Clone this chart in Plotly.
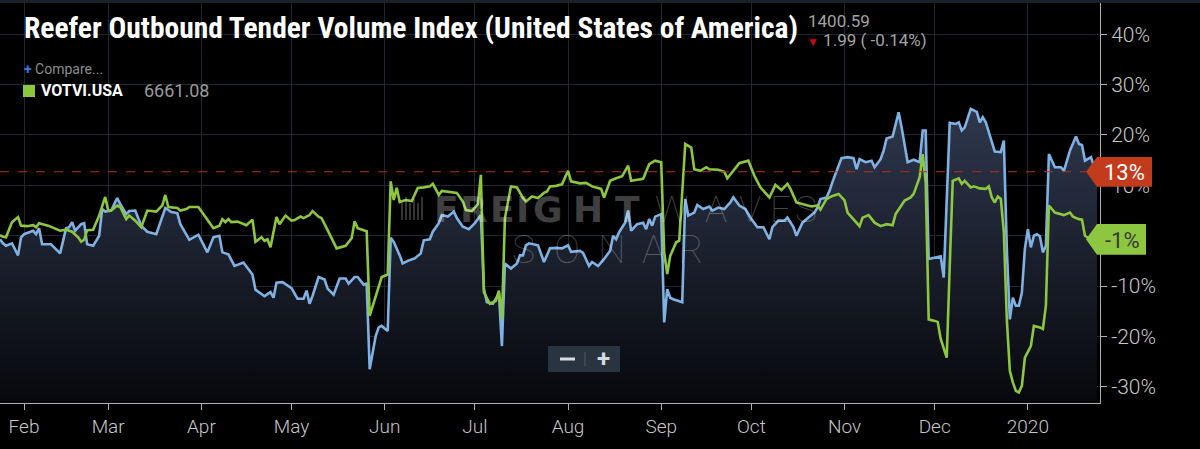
import plotly.graph_objects as go

# Reefer outbound tender volume index, % change
rotvi_dates = [
    "2019-01-24", "2019-01-25", "2019-01-26", "2019-01-28", "2019-01-30", "2019-01-31",
    "2019-02-01", "2019-02-04", "2019-02-05", "2019-02-06", "2019-02-07", "2019-02-10",
    "2019-02-13", "2019-02-15", "2019-02-16", "2019-02-17", "2019-02-18", "2019-02-20",
    "2019-02-21", "2019-02-22", "2019-02-24", "2019-02-26", "2019-02-27", "2019-02-28",
    "2019-03-02", "2019-03-04", "2019-03-05", "2019-03-07", "2019-03-08", "2019-03-10",
    "2019-03-12", "2019-03-14", "2019-03-17", "2019-03-20", "2019-03-22", "2019-03-24",
    "2019-03-25", "2019-03-28", "2019-03-31",
    "2019-04-03", "2019-04-05", "2019-04-07", "2019-04-08", "2019-04-10", "2019-04-12",
    "2019-04-15", "2019-04-18", "2019-04-19", "2019-04-22", "2019-04-24", "2019-04-25",
    "2019-04-26", "2019-04-28",
    "2019-05-01", "2019-05-03", "2019-05-05", "2019-05-06", "2019-05-07", "2019-05-08",
    "2019-05-10", "2019-05-12", "2019-05-13", "2019-05-15", "2019-05-17", "2019-05-19",
    "2019-05-20", "2019-05-22", "2019-05-23", "2019-05-25", "2019-05-26", "2019-05-27",
    "2019-05-29", "2019-05-30", "2019-05-31",
    "2019-06-02", "2019-06-03", "2019-06-04", "2019-06-05", "2019-06-06", "2019-06-07",
    "2019-06-09", "2019-06-11", "2019-06-13", "2019-06-14", "2019-06-16", "2019-06-17",
    "2019-06-19", "2019-06-20", "2019-06-22", "2019-06-24", "2019-06-25", "2019-06-27",
    "2019-06-29",
    "2019-07-01", "2019-07-03", "2019-07-04", "2019-07-05", "2019-07-07", "2019-07-09",
    "2019-07-10", "2019-07-11", "2019-07-13", "2019-07-15", "2019-07-16", "2019-07-17",
    "2019-07-18", "2019-07-19", "2019-07-22", "2019-07-24", "2019-07-26", "2019-07-28",
    "2019-07-30",
    "2019-08-01", "2019-08-02", "2019-08-05", "2019-08-06", "2019-08-08", "2019-08-09",
    "2019-08-11", "2019-08-13", "2019-08-15", "2019-08-16", "2019-08-17", "2019-08-18",
    "2019-08-20", "2019-08-21", "2019-08-22", "2019-08-24", "2019-08-26", "2019-08-27",
    "2019-08-28", "2019-08-29", "2019-08-30",
    "2019-09-01", "2019-09-02", "2019-09-03", "2019-09-04", "2019-09-05", "2019-09-07",
    "2019-09-08", "2019-09-09", "2019-09-10", "2019-09-12", "2019-09-13", "2019-09-15",
    "2019-09-17", "2019-09-18", "2019-09-20", "2019-09-22", "2019-09-24", "2019-09-25",
    "2019-09-27", "2019-09-29",
    "2019-10-01", "2019-10-03", "2019-10-05", "2019-10-07", "2019-10-08", "2019-10-10",
    "2019-10-12", "2019-10-13", "2019-10-15", "2019-10-16", "2019-10-18", "2019-10-20",
    "2019-10-22", "2019-10-23", "2019-10-24", "2019-10-26", "2019-10-27", "2019-10-28",
    "2019-10-30", "2019-10-31",
    "2019-11-02", "2019-11-04", "2019-11-05", "2019-11-06", "2019-11-08", "2019-11-10",
    "2019-11-11", "2019-11-13", "2019-11-14", "2019-11-15", "2019-11-17", "2019-11-18",
    "2019-11-19", "2019-11-20", "2019-11-22", "2019-11-24", "2019-11-26", "2019-11-27",
    "2019-11-28", "2019-11-29",
    "2019-12-01", "2019-12-03", "2019-12-04", "2019-12-05", "2019-12-06", "2019-12-08",
    "2019-12-09", "2019-12-10", "2019-12-11", "2019-12-13", "2019-12-15", "2019-12-16",
    "2019-12-17", "2019-12-18", "2019-12-20", "2019-12-21", "2019-12-23", "2019-12-24",
    "2019-12-25", "2019-12-26", "2019-12-27", "2019-12-28", "2019-12-29", "2019-12-30",
    "2019-12-31",
    "2020-01-01", "2020-01-02", "2020-01-03", "2020-01-04", "2020-01-05", "2020-01-06",
    "2020-01-07", "2020-01-08", "2020-01-10", "2020-01-12", "2020-01-13", "2020-01-15",
    "2020-01-17", "2020-01-18", "2020-01-19", "2020-01-20", "2020-01-22", "2020-01-23",
    "2020-01-24",
]
rotvi_vals = [
    -0.7, -1.5, -2.0, -1.5, -3.9, -0.3,
    0.3, 1.0, 0.3, 1.5, -1.7, -1.7,
    -3.5, 1.5, 1.7, 2.7, 1.0, 2.3,
    2.5, -1.7, -2.0, 0.0, 5.3, 4.8,
    5.0, 7.5, 6.3, 4.3, 4.9, 5.0,
    2.0, 0.8, 0.3, 5.5, 4.7, 4.5,
    2.3, -0.8, 0.2,
    -3.3, -0.3, 0.0, -3.3, -3.7, -6.0,
    -5.3, -7.7, -10.7, -12.0, -11.2, -12.3,
    -9.3, -9.2,
    -10.4, -12.5, -12.5, -10.9, -13.5, -11.9,
    -8.2, -8.7, -10.5, -11.7, -8.5, -8.5,
    -9.5, -8.2, -8.2, -9.7, -9.5, -26.5,
    -19.9, -18.2, -17.9,
    -18.9, -0.4, -1.2, -2.5, -3.9, -5.5,
    -4.9, -4.5, -3.5, -0.9, -0.7, 0.8,
    2.5, 4.1, 3.8, 4.8, 3.5, 1.8,
    1.3,
    2.5, 4.1, -10.5, -13.2, -13.5, -11.5,
    -21.9, -5.5, -6.5, -5.5, -3.9, -3.9,
    -1.9, -1.5, -1.9, -5.2, -2.5, -2.4,
    -2.5,
    -1.9, -3.2, -3.0, -3.4, -6.0, -5.2,
    -6.0, -4.6, -3.0, 0.0, -0.7, 0.7,
    2.6, 5.0, 1.0, 2.3, 2.6, 1.3,
    3.3, 2.0, 3.8,
    4.3, -17.2, -10.6, -12.3, -12.6, -12.9,
    -13.2, 7.3, 4.0, 4.6, 6.1, 5.3,
    5.8, 5.0, 5.6, 5.3, 6.6, 7.6,
    6.0, 5.3,
    3.3, 1.7, 1.7, -0.7, 1.7, 3.0,
    3.0, 3.6, 1.7, 0.0, 2.6, 3.6,
    4.6, 5.6, 7.3, 7.6, 8.9, 10.7,
    13.6, 15.4,
    15.6, 15.4, 13.2, 15.2, 14.6, 14.9,
    13.6, 15.2, 16.9, 19.3, 19.7, 22.2,
    24.5, 21.5, 14.6, 15.1, 14.6, 20.9,
    20.9, -4.6,
    -4.3, -4.1, -8.3, 7.3, 22.4, 22.2,
    22.5, 20.9, 21.5, 25.2, 24.6, 22.5,
    23.5, 22.5, 18.7, 16.7, 16.6, 18.9,
    -2.6, -16.6, -12.3, -13.9, -13.9, -11.3,
    -2.6,
    1.3, -2.3, 0.0, 0.3, -0.1, -3.3,
    -2.0, 16.2, 13.6, 13.6, 12.9, 16.9,
    19.7, 18.2, 18.0, 14.9, 15.6, 13.8,
    14.2,
]

# VOTVI.USA comparison series
votvi_dates = [
    "2019-01-24", "2019-01-25", "2019-01-26", "2019-01-28", "2019-01-30", "2019-01-31",
    "2019-02-02", "2019-02-04", "2019-02-05", "2019-02-06", "2019-02-09", "2019-02-11",
    "2019-02-13", "2019-02-15", "2019-02-17", "2019-02-19", "2019-02-20", "2019-02-21",
    "2019-02-22", "2019-02-24", "2019-02-26", "2019-02-28",
    "2019-03-01", "2019-03-02", "2019-03-04", "2019-03-05", "2019-03-07", "2019-03-08",
    "2019-03-10", "2019-03-12", "2019-03-14", "2019-03-17", "2019-03-19", "2019-03-20",
    "2019-03-21", "2019-03-24", "2019-03-25", "2019-03-27", "2019-03-28", "2019-03-31",
    "2019-04-03", "2019-04-05", "2019-04-07", "2019-04-08", "2019-04-09", "2019-04-10",
    "2019-04-11", "2019-04-13", "2019-04-16", "2019-04-18", "2019-04-19", "2019-04-21",
    "2019-04-22", "2019-04-23", "2019-04-24", "2019-04-26", "2019-04-27", "2019-04-29",
    "2019-05-01", "2019-05-02", "2019-05-04", "2019-05-05", "2019-05-07", "2019-05-08",
    "2019-05-10", "2019-05-11", "2019-05-13", "2019-05-15", "2019-05-16", "2019-05-19",
    "2019-05-21", "2019-05-22", "2019-05-23", "2019-05-25", "2019-05-26", "2019-05-27",
    "2019-05-28", "2019-05-29", "2019-05-31",
    "2019-06-02", "2019-06-03", "2019-06-04", "2019-06-05", "2019-06-06", "2019-06-08",
    "2019-06-10", "2019-06-12", "2019-06-14", "2019-06-16", "2019-06-17", "2019-06-19",
    "2019-06-20", "2019-06-23", "2019-06-25", "2019-06-27", "2019-06-28", "2019-06-30",
    "2019-07-02", "2019-07-03", "2019-07-04", "2019-07-06", "2019-07-08", "2019-07-09",
    "2019-07-10", "2019-07-11", "2019-07-13", "2019-07-15", "2019-07-17", "2019-07-18",
    "2019-07-20", "2019-07-22", "2019-07-24", "2019-07-25", "2019-07-26", "2019-07-28",
    "2019-07-30",
    "2019-08-01", "2019-08-02", "2019-08-05", "2019-08-07", "2019-08-09", "2019-08-12",
    "2019-08-13", "2019-08-15", "2019-08-17", "2019-08-19", "2019-08-21", "2019-08-22",
    "2019-08-24", "2019-08-26", "2019-08-28", "2019-08-30",
    "2019-09-01", "2019-09-02", "2019-09-03", "2019-09-04", "2019-09-06", "2019-09-07",
    "2019-09-09", "2019-09-11", "2019-09-12", "2019-09-14", "2019-09-16", "2019-09-17",
    "2019-09-20", "2019-09-22", "2019-09-23", "2019-09-25", "2019-09-27", "2019-09-30",
    "2019-10-02", "2019-10-04", "2019-10-07", "2019-10-09", "2019-10-11", "2019-10-13",
    "2019-10-14", "2019-10-16", "2019-10-19", "2019-10-21", "2019-10-23", "2019-10-24",
    "2019-10-26", "2019-10-28", "2019-10-30",
    "2019-11-01", "2019-11-02", "2019-11-04", "2019-11-06", "2019-11-07", "2019-11-09",
    "2019-11-11", "2019-11-13", "2019-11-15", "2019-11-17", "2019-11-18", "2019-11-20",
    "2019-11-21", "2019-11-23", "2019-11-24", "2019-11-26", "2019-11-27", "2019-11-28",
    "2019-11-29",
    "2019-12-01", "2019-12-02", "2019-12-03", "2019-12-05", "2019-12-06", "2019-12-07",
    "2019-12-09", "2019-12-10", "2019-12-11", "2019-12-13", "2019-12-14", "2019-12-16",
    "2019-12-18", "2019-12-19", "2019-12-20", "2019-12-21", "2019-12-22", "2019-12-23",
    "2019-12-24", "2019-12-25", "2019-12-26", "2019-12-27", "2019-12-28", "2019-12-29",
    "2019-12-30", "2019-12-31",
    "2020-01-02", "2020-01-03", "2020-01-05", "2020-01-06", "2020-01-07", "2020-01-08",
    "2020-01-10", "2020-01-12", "2020-01-13", "2020-01-15", "2020-01-16", "2020-01-18",
    "2020-01-19", "2020-01-20", "2020-01-22",
]
votvi_vals = [
    0.1, -0.2, -0.3, 2.7, 3.7, 2.0,
    1.9, 2.1, 1.7, 2.5, 2.0, 1.5,
    1.0, 1.2, 0.8, -0.3, -1.2, -0.8,
    1.1, 1.2, 4.0, 7.7,
    5.0, 5.0, 6.0, 5.7, 3.3, 4.0,
    3.0, 1.7, 5.0, 4.8, 6.0, 8.1,
    5.7, 5.5, 5.0, 5.3, 5.7, 5.7,
    3.3, 1.5, 2.0, 3.3, 2.7, 3.3,
    2.7, 2.8, 2.1, 3.2, -1.2, -0.3,
    -1.0, -0.7, -2.3, 3.7, 2.3, 4.0,
    3.0, 3.1, 3.8, 3.5, 4.1, 4.9,
    3.8, 3.5, 1.1, -1.2, -2.5, -2.0,
    -0.5, 2.9, 1.5, 1.1, 0.9, -15.9,
    -13.9, -11.9, -8.2,
    -7.7, 10.8, 7.1, 9.5, 6.7, 7.1,
    6.9, 9.5, 9.6, 9.8, 10.3, 8.1,
    8.9, 8.6, 8.5, 6.8, 5.1, 4.9,
    6.3, 12.1, -11.2, -13.5, -12.9, -10.9,
    -16.5, 3.5, 9.8, 9.6, 7.5, 6.8,
    7.8, 7.5, 8.5, 8.8, 9.8, 9.9,
    10.2,
    12.9, 10.8, 10.4, 10.5, 9.8, 9.3,
    7.6, 10.9, 11.4, 11.8, 13.9, 10.9,
    11.1, 11.3, 14.2, 14.9,
    14.6, -3.3, -7.6, -4.0, -1.3, -1.0,
    18.2, 17.5, 13.2, 12.9, 13.6, 13.2,
    13.1, 12.7, 11.4, 12.9, 14.4, 14.9,
    11.9, 9.6, 7.6, 10.1, 9.1, 10.3,
    9.3, 6.6, 6.1, 5.8, 6.0, 5.2,
    7.3, 7.9, 8.3,
    7.0, 4.6, 3.2, 1.9, 3.6, 4.1,
    2.6, 1.9, 2.3, 2.1, 4.3, 6.1,
    7.0, 7.6, 8.3, 11.6, 16.2, 10.6,
    -16.6,
    -16.9, -17.1, -20.5, -24.2, -6.0, 10.9,
    11.4, 10.3, 10.9, 9.6, 9.8, 9.4,
    9.3, 9.8, 7.6, 6.6, 7.8, 7.3,
    0.7, -16.6, -26.8, -29.1, -30.8, -31.1,
    -29.8, -24.2,
    -21.9, -17.9, -18.2, -18.5, -13.9, 6.0,
    4.6, 4.3, 4.1, 4.6, 3.8, 3.3,
    3.2, 0.0, -0.8,
]

month_ticks = ["2019-02-01", "2019-03-01", "2019-04-01", "2019-05-01", "2019-06-01",
               "2019-07-01", "2019-08-01", "2019-09-01", "2019-10-01", "2019-11-01",
               "2019-12-01", "2020-01-01"]
month_labels = ["Feb", "Mar", "Apr", "May", "Jun", "Jul", "Aug", "Sep", "Oct", "Nov",
                "Dec", "2020"]
pct_ticks = [-30, -20, -10, 0, 10, 20, 30, 40]
# 0% sits fully under the green last-value tag, so its label is left blank
pct_labels = ["" if v == 0 else f"{v}%" for v in pct_ticks]

x_range = ["2019-01-24", "2020-01-25"]
y_range = [-33.2, 46.2]

last_level = 12.7          # dashed reference line / red tag
last_label = "13%"
votvi_level = -0.7
votvi_label = "-1%"

BLUE = "#7fb1e3"
GREEN = "#8dc63f"
GRID = "#1e2834"
AXIS = "#b0b0b0"
TICK_TXT = "#c6c6c6"

fig = go.Figure()

# invisible floor so the area fill runs down to the bottom of the plot
fig.add_trace(go.Scatter(
    x=[rotvi_dates[0], rotvi_dates[-1]], y=[y_range[0], y_range[0]],
    mode="lines", line=dict(width=0), hoverinfo="skip", showlegend=False,
))
fig.add_trace(go.Scatter(
    x=rotvi_dates, y=rotvi_vals, mode="lines", name="ROTVI.USA",
    line=dict(color=BLUE, width=2.6), fill="tonexty",
    fillgradient=dict(type="vertical", start=y_range[0], stop=25,
                      colorscale=[[0, "#07080c"], [1, "#2e374d"]]),
    showlegend=False,
))
fig.add_trace(go.Scatter(
    x=votvi_dates, y=votvi_vals, mode="lines", name="VOTVI.USA",
    line=dict(color=GREEN, width=2.6), showlegend=False,
))


def px(x):
    # pixel column -> paper x (plot area spans 0..1100 px)
    return x / 1100


def py(y):
    # pixel row -> paper y (plot area spans rows 3..403)
    return (403 - y) / 400


def tag_path(level, half, right):
    tip, base = px(1086), px(1097)
    r = px(right)
    return (f"M {tip},{level} L {base},{level + half} L {r},{level + half} "
            f"L {r},{level - half} L {base},{level - half} Z")


shapes = [
    dict(type="rect", xref="paper", yref="paper", x0=-0.01, x1=1.1, y0=1.0, y1=1.012,
         fillcolor="#1b222b", line_width=0, layer="above"),
    dict(type="line", xref="paper", yref="y", x0=0, x1=px(1086), y0=last_level, y1=last_level,
         line=dict(color="#b3321b", width=1.2, dash="dash")),
    dict(type="path", xref="paper", yref="y", path=tag_path(last_level, 2.95, 1152),
         fillcolor="#c23b1d", line_width=0, layer="above"),
    dict(type="path", xref="paper", yref="y", path=tag_path(votvi_level, 3.05, 1146),
         fillcolor=GREEN, line_width=0, layer="above"),
    # legend swatch
    dict(type="rect", xref="paper", yref="paper", x0=px(23), x1=px(35), y0=py(97), y1=py(85),
         fillcolor=GREEN, line_width=0),
    # zoom buttons
    dict(type="rect", xref="paper", yref="paper", x0=px(548), x1=px(620), y0=py(372), y1=py(346),
         fillcolor="#2a3441", line_width=0, layer="above"),
    dict(type="line", xref="paper", yref="paper", x0=px(585), x1=px(585), y0=py(366), y1=py(352),
         line=dict(color="#4c5868", width=1), layer="above"),
    dict(type="line", xref="paper", yref="paper", x0=px(560), x1=px(575), y0=py(359), y1=py(359),
         line=dict(color="#d5dbe2", width=3), layer="above"),
]

# small bar logo in front of the watermark
for bx, top in zip([401, 405, 409, 413, 417, 421], [203, 197, 203, 199, 203, 197]):
    shapes.append(dict(type="rect", xref="paper", yref="paper", x0=px(bx), x1=px(bx + 2),
                       y0=py(220), y1=py(top), fillcolor="rgba(255,255,255,0.2)",
                       line_width=0, layer="above"))

ann = []


def text(x, y, s, size, color, anchor="left", family="Roboto", weight=400):
    ann.append(dict(x=px(x), y=py(y), xref="paper", yref="paper", text=s, showarrow=False,
                    xanchor=anchor, yanchor="middle",
                    font=dict(family=family, size=size, color=color, weight=weight)))


# watermark letters
for ch, cx in zip("FREIGHT", [446, 474, 502, 522, 548, 588, 627]):
    text(cx, 209, ch, 36, "rgba(255,255,255,0.25)", "center", "DejaVu Sans", 700)
for ch, cx in zip("WAVES", [672, 716, 750, 780, 806]):
    text(cx, 209, ch, 37, "rgba(255,255,255,0.28)", "center", "Roboto", 100)
for ch, cx in zip("SONAR", [523, 567, 612, 653, 691]):
    text(cx, 250, ch, 39, "rgba(255,255,255,0.25)", "center", "Roboto", 100)

text(22, 28, "<b>Reefer Outbound Tender Volume Index (United States of America)</b>", 29.5,
     "#ffffff", family="Liberation Sans Narrow, Roboto Condensed, Roboto")
text(806, 21, "1400.59", 17, "#a3a3a3")
text(805, 40, '<span style="color:#d0021b;font-size:12px">▼</span> 1.99 ( -0.14%)', 17, "#a3a3a3")
text(22, 69, '<span style="color:#2f80e0"><b>+</b></span> Compare...', 14, "#8c8c8c")
text(39, 91, "<b>VOTVI.USA</b>", 16, "#ffffff")
text(142, 91, "6661.08", 18, "#9a9a9a")
text(1124, 172, last_label, 22, "#ffffff", "center")
text(1122, 240, votvi_label, 22, "#3a3a3a", "center")
text(603, 359, "<b>+</b>", 24, "#d5dbe2", "center")

fig.update_layout(
    width=1200, height=449,
    margin=dict(l=0, r=100, t=3, b=46),
    paper_bgcolor="#000000", plot_bgcolor="#000000",
    shapes=shapes, annotations=ann,
    showlegend=False,
)
fig.update_xaxes(
    range=x_range, tickvals=month_ticks, ticktext=month_labels,
    showgrid=True, gridcolor=GRID, gridwidth=1, zeroline=False,
    showline=True, linecolor=AXIS, linewidth=1,
    ticks="outside", ticklen=6, tickcolor=AXIS,
    tickfont=dict(family="Roboto", size=19, color=TICK_TXT, weight=300),
)
fig.update_yaxes(
    range=y_range, side="right", tickvals=pct_ticks, ticktext=pct_labels,
    showgrid=True, gridcolor=GRID, gridwidth=1, zeroline=False,
    showline=True, linecolor=AXIS, linewidth=1,
    ticks="outside", ticklen=6, tickcolor=AXIS,
    tickfont=dict(family="Roboto", size=21, color=TICK_TXT, weight=300),
)

# the page's default 8px body margin would push the figure off the window
fig.write_html("out.html", config={"displayModeBar": False},
               post_script="document.body.style.margin='0px';")
